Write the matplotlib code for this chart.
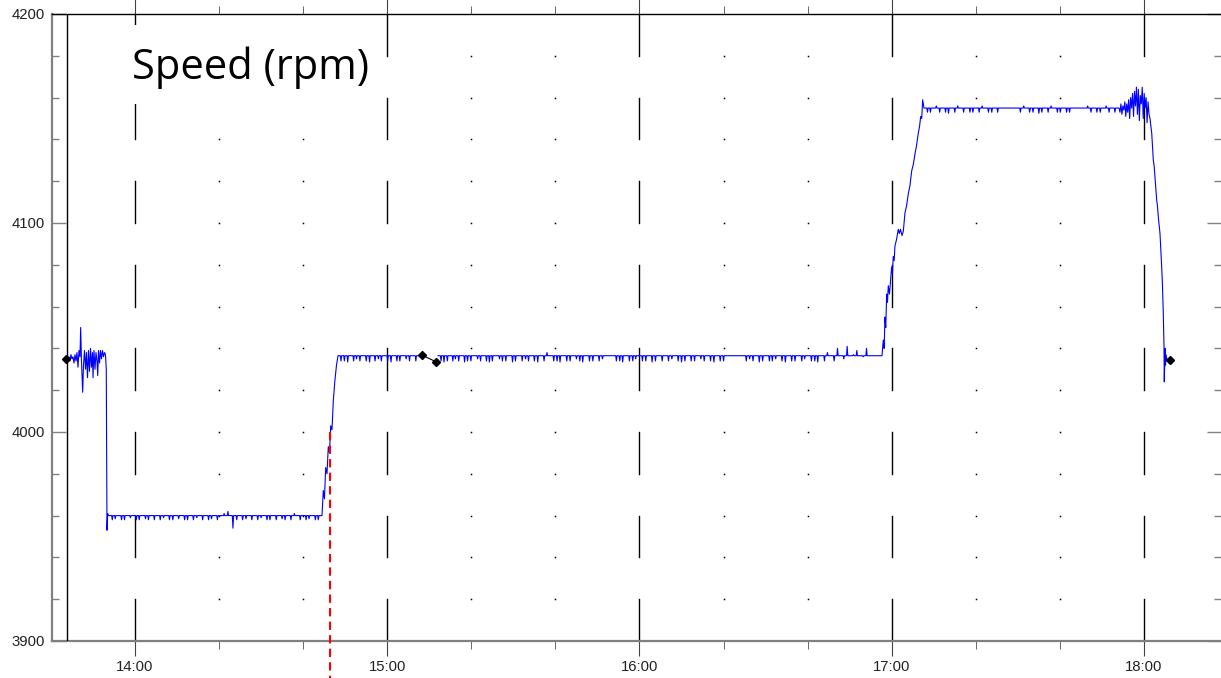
import numpy as np
import matplotlib
matplotlib.use('Agg')
from matplotlib import pyplot as plt
from matplotlib.patches import Rectangle

# time axis: minutes after 13:00
hour_ticks = [60, 120, 180, 240, 300]
hour_labels = ['14:00', '15:00', '16:00', '17:00', '18:00']
rpm_ticks = [3900, 4000, 4100, 4200]

# start-up, noisy level around 4036, then drop to 3960
start_t = [43.83, 44.30, 44.54, 44.78, 45.01, 45.25, 45.49, 45.73, 45.97, 46.20,
           46.44, 46.68, 46.92, 47.08, 47.27, 47.56, 47.75, 47.99, 48.23, 48.46,
           48.70, 48.94, 49.18, 49.42, 49.65, 49.89, 50.01, 50.25, 50.49, 50.72,
           50.96, 51.13, 51.32, 51.56, 51.79, 52.03, 52.27, 52.51, 52.75, 52.98,
           53.17, 53.26, 53.34, 53.50]
start_v = [4035, 4036, 4034, 4037, 4035, 4036, 4033, 4037, 4034, 4038,
           4031, 4039, 4036, 4050, 4034, 4019, 4032, 4039, 4030, 4038,
           4026, 4039, 4029, 4040, 4031, 4038, 4026, 4039, 4030, 4038,
           4034, 4027, 4039, 4033, 4039, 4035, 4039, 4036, 4038, 4037,
           4030, 3990, 3953, 3961]

# low plateau 3960 with short spikes
low_span, low_base = (53.69, 104.24), 3960
low_spike_t = [54.6, 55.3, 56.8, 57.5, 58.9, 60.3, 61.0, 62.5, 63.2, 64.6,
               66.0, 66.8, 68.2, 69.0, 70.4, 71.8, 72.5, 73.9, 74.7, 76.1,
               77.5, 78.2, 79.6, 81.2, 82.1, 83.3, 84.2, 85.6, 86.4, 87.8,
               89.2, 90.0, 91.4, 92.1, 93.6, 95.0, 95.7, 97.1, 97.9, 99.3,
               100.7, 101.4, 102.9, 103.6]
low_spike_v = [3958, 3958.5, 3958, 3958, 3959, 3958, 3958, 3958.5, 3958, 3958,
               3958, 3959, 3958, 3958, 3958.5, 3958, 3958, 3958, 3959, 3958,
               3958, 3958.5, 3958, 3961, 3962, 3954, 3958, 3958, 3958.5, 3958,
               3958, 3959, 3958, 3958, 3958, 3958.5, 3958, 3958, 3961, 3958,
               3958, 3958.5, 3958, 3958]

ramp1_t = [104.48, 104.79, 105.07, 105.36, 105.67, 105.98, 106.26, 106.55,
           106.86, 107.17, 107.57, 107.93]
ramp1_v = [3960, 3972, 3968, 3983, 3980, 3993, 3990, 4003,
           4001, 4015, 4025, 4032]

# middle plateau ~4036.5, before and after the logged gap
mid_base = 4036.5
mid1_span = (108.29, 128.27)
mid1_spike_t = [109.0, 109.8, 110.6, 112.0, 112.7, 113.5, 115.0, 115.8, 117.1,
                117.9, 118.6, 120.1, 120.9, 122.3, 123.0, 124.5, 125.3, 126.8]
mid1_spike_v = [4034, 4034, 4033.5, 4034, 4035, 4034, 4034, 4033.5, 4034,
                4035, 4034, 4034, 4033.5, 4034, 4034, 4035, 4034, 4034]
mid2_span = (132.07, 237.68)
mid2_spike_t = [132.8, 133.5, 134.3, 135.6, 136.2, 137.0, 138.4, 139.1, 139.9, 141.5,
                142.2, 143.6, 144.3, 145.0, 146.7, 147.4, 148.2, 149.8, 150.5, 152.1,
                152.9, 153.6, 155.0, 155.8, 157.3, 158.0, 159.6, 160.4, 161.1, 162.7,
                163.5, 165.0, 165.8, 166.5, 168.1, 168.9, 170.4, 171.2, 174.5, 175.3,
                176.0, 177.6, 178.4, 179.1, 180.7, 181.5, 183.0, 183.8, 185.4, 186.9,
                187.7, 189.2, 190.0, 190.8, 192.3, 193.1, 194.6, 195.4, 196.9, 197.7,
                199.2, 200.0, 205.4, 206.2, 207.0, 208.5, 209.3, 210.9, 211.6, 212.4,
                213.9, 214.7, 216.2, 217.0, 218.6, 219.3, 220.9, 221.7, 222.4, 224.0,
                224.7, 226.3, 227.1, 228.6, 229.4, 230.9, 231.7, 233.2, 234.0]
mid2_spike_v = [4034, 4033.5, 4034, 4034, 4035, 4034, 4033.5, 4034, 4034, 4035,
                4034, 4034, 4033.5, 4034, 4035, 4034, 4034, 4033.5, 4034, 4034,
                4035, 4034, 4034, 4033.5, 4034, 4038, 4034, 4034, 4033.5, 4034,
                4034, 4035, 4034, 4033.5, 4034, 4034, 4034, 4035, 4034, 4034,
                4033.5, 4034, 4034, 4035, 4034, 4034, 4033.5, 4034, 4034, 4034,
                4035, 4034, 4033.5, 4034, 4034, 4034, 4035, 4034, 4034, 4033.5,
                4034, 4034, 4034, 4035, 4034, 4033.5, 4034, 4034, 4034, 4035,
                4034, 4033.5, 4034, 4034, 4034, 4035, 4034, 4034, 4033.5, 4034,
                4038, 4034, 4040, 4035, 4041, 4037, 4039, 4036, 4040]

ramp2_t = [237.99, 238.20, 238.39, 238.58, 238.80, 238.99, 239.18, 239.46,
           239.98, 240.17, 240.36, 240.58, 240.77, 241.13, 241.56, 241.80,
           242.08, 242.44, 242.75, 243.16, 243.51, 243.94, 244.34, 244.75,
           245.13, 245.53, 245.89, 246.32, 246.60, 246.89, 247.13, 247.36]
ramp2_v = [4044, 4040, 4055, 4050, 4066, 4062, 4070, 4066,
           4079, 4076, 4084, 4082, 4089, 4092, 4097, 4095,
           4097, 4094, 4096, 4105, 4108, 4114, 4118, 4125,
           4128, 4133, 4137, 4143, 4146, 4151, 4150, 4159]

# high plateau 4155
high_span, high_base = (247.67, 293.82), 4155
high_spike_t = [248.5, 249.2, 250.6, 251.4, 252.8, 253.5, 255.0, 255.7, 257.1, 258.6,
                259.3, 260.8, 261.5, 263.0, 263.8, 265.2, 270.6, 271.4, 272.8, 273.6,
                275.0, 275.7, 277.2, 277.9, 279.4, 280.1, 281.6, 282.3, 286.6, 287.4,
                288.8, 289.6, 291.0, 291.7, 293.1]
high_spike_v = [4153, 4153, 4156, 4153, 4153, 4152.5, 4153, 4156, 4153, 4153,
                4153, 4153, 4156, 4153, 4153, 4153, 4153, 4156, 4153, 4153,
                4152.5, 4153, 4153, 4156, 4153, 4153, 4153, 4153, 4156, 4153,
                4153, 4153, 4156, 4153, 4153]
wobble_span = (294.06, 301.2)
wobble_v = [4155, 4153, 4157, 4152, 4156, 4154, 4158, 4151, 4157, 4153,
            4159, 4150, 4160, 4155, 4162, 4151, 4163, 4156, 4165, 4152,
            4164, 4149, 4161, 4157, 4165, 4150, 4162, 4155, 4160, 4148,
            4158, 4152]

drop_t = [301.43, 301.84, 302.22, 302.43, 302.62, 303.02, 303.21, 303.40,
          303.81, 304.21, 304.40, 304.59, 304.76, 304.83, 305.00, 305.12,
          305.24, 305.47, 305.71]
drop_v = [4150, 4143, 4130, 4127, 4122, 4111, 4108, 4103,
          4095, 4079, 4070, 4057, 4041, 4024, 4040, 4032,
          4037, 4034, 4035]

# black marker series
mark_t = [43.59, 128.27, 131.60, 306.19]
mark_v = [4035, 4036.8, 4033.6, 4034.5]

cursor_t = 43.83     # black cursor line
event_t = 106.38     # red dashed marker
event_v = 4000


def plateau(lim, base, spike_t, spike_v, half=0.15):
    # flat level with short one-sample spikes
    ts, vs = [lim[0]], [base]
    for s, val in zip(spike_t, spike_v):
        ts += [s - half, s, s + half]
        vs += [base, val, base]
    ts.append(lim[1])
    vs.append(base)
    return ts, vs


low_t, low_v = plateau(low_span, low_base, low_spike_t, low_spike_v)
mid1_t, mid1_v = plateau(mid1_span, mid_base, mid1_spike_t, mid1_spike_v)
mid2_t, mid2_v = plateau(mid2_span, mid_base, mid2_spike_t, mid2_spike_v)
high_t, high_v = plateau(high_span, high_base, high_spike_t, high_spike_v)
wobble_t = list(np.linspace(wobble_span[0], wobble_span[1], len(wobble_v)))

t = (start_t + low_t + ramp1_t + mid1_t + [np.nan] + mid2_t + ramp2_t
     + high_t + wobble_t + drop_t)
v = (start_v + low_v + ramp1_v + mid1_v + [np.nan] + mid2_v + ramp2_v
     + high_v + wobble_v + drop_v)

plt.rcParams['font.family'] = ['Liberation Sans', 'DejaVu Sans']

fig = plt.figure(figsize=(12.21, 6.78), dpi=100)
ax = fig.add_axes([52 / 1221, 37 / 678, 1169 / 1221, 627 / 678])
ax.set_xlim(40.26, 318.32)
ax.set_ylim(3900, 4200)

# grid: long dashes on the hour lines, dots elsewhere
for h in hour_ticks:
    for y0 in range(3900, 4200, 40):
        ax.plot([h, h], [y0, y0 + 20], color='black', lw=1.0, zorder=1)
dot_t = [m for m in range(80, 320, 20) if m % 60]
dot_v = list(range(3920, 4200, 20))
tt, vv = np.meshgrid(dot_t, dot_v)
ax.plot(tt.ravel(), vv.ravel(), ls='none', marker='s', ms=1.1, color='black',
        mew=0, zorder=1)

# white box behind the title
ax.add_patch(Rectangle((73 / 1169, 0.8565), 255 / 1169, 0.126, transform=ax.transAxes,
                       facecolor='white', edgecolor='none', zorder=2))

ax.axvline(cursor_t, color='black', lw=1.0, zorder=3)
ax.plot(t, v, color='#0000ff', lw=0.8, zorder=4)
ax.plot(mark_t[1:3], mark_v[1:3], color='black', lw=0.8, zorder=5)
ax.plot(mark_t, mark_v, ls='none', marker='D', ms=4, color='black', zorder=5)
ax.plot([event_t, event_t], [event_v, 3882.3], color='red', lw=1.5,
        ls=(0, (4, 2.5)), clip_on=False, zorder=6)

ax.text(80 / 1169, 1 - 65 / 627, 'Speed (rpm)', transform=ax.transAxes,
        fontsize=30, family=['Open Sans', 'DejaVu Sans'], va='baseline', ha='left',
        zorder=7)

# axes frame and ticks
ax.spines['right'].set_visible(False)
ax.spines['top'].set_color('black')
ax.spines['top'].set_linewidth(1.0)
for s in ('left', 'bottom'):
    ax.spines[s].set_color('#808080')
    ax.spines[s].set_linewidth(1.6)

ax.set_xticks(hour_ticks)
ax.set_xticklabels(hour_labels)
ax.set_xticks([m for m in range(60, 320, 20) if m % 60], minor=True)
ax.set_yticks(rpm_ticks)
ax.set_yticklabels([str(r) for r in rpm_ticks])
ax.set_yticks(list(range(3900, 4201, 20)), minor=True)

ax.tick_params(axis='x', which='major', direction='out', top=True, bottom=True,
               length=10.5, width=0.8, color='#444444', labelsize=10.7,
               labelcolor='#222222', pad=3)
ax.tick_params(axis='x', which='minor', direction='out', top=True, bottom=True,
               length=6, width=0.7, color='#666666')
ax.tick_params(axis='y', which='major', direction='in', left=True, right=True,
               length=10, width=1.0, color='#808080', labelsize=10.7,
               labelcolor='#222222', pad=5)
ax.tick_params(axis='y', which='minor', direction='in', left=True, right=True,
               length=5, width=1.0, color='#808080')

fig.savefig('out.png', dpi=100)
